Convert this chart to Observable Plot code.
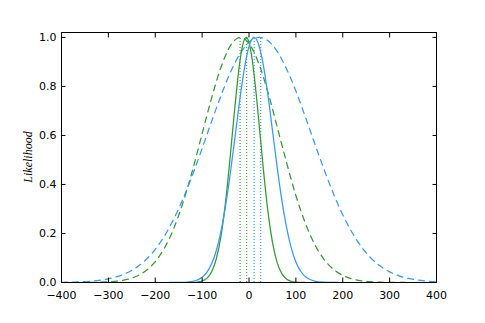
<!DOCTYPE html>
<html>
<head>
<meta charset="utf-8">
<script src="https://cdn.jsdelivr.net/npm/d3@7"></script>
<script src="https://cdn.jsdelivr.net/npm/@observablehq/plot@0.6"></script>
<style>
  html, body { margin: 0; padding: 0; background: #ffffff; }
  #chart svg { display: block; }
</style>
</head>
<body>
<div id="chart"></div>
<script>
// Values
const xTicks = [-400, -300, -200, -100, 0, 100, 200, 300, 400];
const yTicks = [0, 0.2, 0.4, 0.6, 0.8, 1.0];

// green solid (narrow)
const greenSolidX = [-130, -120, -110, -100, -90, -80, -70, -60, -50, -40, -30, -20, -10, -6, 0, 10, 20, 30, 40, 50, 60, 70, 80, 90, 100, 110, 120];
const greenSolidY = [0.0001, 0.0006, 0.002, 0.006, 0.017, 0.043, 0.095, 0.187, 0.329, 0.515, 0.718, 0.894, 0.991, 1.0, 0.980, 0.863, 0.678, 0.475, 0.296, 0.165, 0.082, 0.036, 0.014, 0.005, 0.0016, 0.0004, 0.0001];

// blue solid (narrow)
const blueSolidX = [-170, -150, -130, -120, -110, -100, -90, -80, -70, -60, -50, -40, -30, -20, -10, 0, 11, 20, 30, 40, 50, 60, 70, 80, 90, 100, 110, 120, 130, 140, 150, 170, 190];
const blueSolidY = [0.0001, 0.0003, 0.002, 0.0047, 0.0103, 0.0213, 0.0413, 0.0752, 0.1287, 0.207, 0.3126, 0.4436, 0.591, 0.741, 0.871, 0.963, 1.0, 0.975, 0.893, 0.769, 0.622, 0.472, 0.337, 0.226, 0.142, 0.084, 0.0468, 0.0244, 0.012, 0.0055, 0.0024, 0.0004, 0.0001];

// green dashed (wide)
const greenDashX = [-340, -320, -300, -280, -260, -240, -220, -200, -180, -160, -140, -120, -100, -80, -60, -40, -18, 0, 20, 40, 60, 80, 100, 120, 140, 160, 180, 200, 220, 240, 260, 280, 300, 320, 340];
const greenDashY = [0.0003, 0.0011, 0.0027, 0.0061, 0.0128, 0.0256, 0.0481, 0.0852, 0.142, 0.223, 0.331, 0.461, 0.607, 0.751, 0.877, 0.965, 1.0, 0.976, 0.898, 0.779, 0.636, 0.490, 0.355, 0.243, 0.156, 0.0948, 0.0542, 0.0292, 0.0148, 0.0071, 0.0032, 0.0014, 0.0006, 0.0002, 0.0001];

// blue dashed (wide)
const blueDashX = [-400, -380, -360, -340, -320, -300, -280, -260, -240, -220, -200, -180, -160, -140, -120, -100, -80, -60, -40, -20, 0, 22, 40, 60, 80, 100, 120, 140, 160, 180, 200, 220, 240, 260, 280, 300, 320, 340, 360, 380, 400];
const blueDashY = [0.0007, 0.0014, 0.0027, 0.0049, 0.0087, 0.0149, 0.0247, 0.0397, 0.0617, 0.0929, 0.1353, 0.191, 0.261, 0.345, 0.441, 0.547, 0.656, 0.761, 0.856, 0.931, 0.981, 1.0, 0.987, 0.943, 0.872, 0.781, 0.677, 0.568, 0.462, 0.363, 0.276, 0.204, 0.145, 0.100, 0.0671, 0.0434, 0.0272, 0.0165, 0.0097, 0.0055, 0.0030];

// dotted vertical markers
const greenMarkers = [-19, -5];
const blueMarkers = [11, 25];

const GREEN = "#339933";
const BLUE = "#3399ff";

const toRows = (xs, ys) => xs.map((x, i) => ({x, y: ys[i]}));
const fmtX = d3.format("d");
const fmtY = d3.format(".1f");
const font = "DejaVu Sans, sans-serif";

const tickLen = -4.5;
const axisStyle = {fontSize: 11, fontFamily: font, color: "black"};

const chart = Plot.plot({
  width: 485,
  height: 323,
  marginLeft: 61,
  marginRight: 49,
  marginTop: 32,
  marginBottom: 41,
  style: {background: "white", fontFamily: font, fontSize: "11px", color: "black", overflow: "visible"},
  x: {domain: [-400, 400]},
  y: {domain: [0, 1.02]},
  marks: [
    Plot.ruleX(greenMarkers, {x: d => d, y1: 0, y2: 1, stroke: GREEN, strokeWidth: 1.1, strokeDasharray: "1,2"}),
    Plot.ruleX(blueMarkers, {x: d => d, y1: 0, y2: 1, stroke: BLUE, strokeWidth: 1.1, strokeDasharray: "1,2"}),
    Plot.line(toRows(greenDashX, greenDashY), {x: "x", y: "y", stroke: GREEN, strokeWidth: 1.25, strokeDasharray: "6,5", curve: "monotone-x"}),
    Plot.line(toRows(blueDashX, blueDashY), {x: "x", y: "y", stroke: BLUE, strokeWidth: 1.25, strokeDasharray: "6,5", curve: "monotone-x"}),
    Plot.line(toRows(greenSolidX, greenSolidY), {x: "x", y: "y", stroke: GREEN, strokeWidth: 1.25, curve: "monotone-x"}),
    Plot.line(toRows(blueSolidX, blueSolidY), {x: "x", y: "y", stroke: BLUE, strokeWidth: 1.25, curve: "monotone-x"}),
    // tick labels
    Plot.axisX(xTicks, {anchor: "bottom", tickSize: 0, tickPadding: 9, tickFormat: fmtX, label: null, ...axisStyle}),
    Plot.axisY(yTicks, {anchor: "left", tickSize: 0, tickPadding: 5, tickFormat: fmtY, label: null, ...axisStyle}),
    // inward ticks on all four sides
    Plot.axisX(xTicks, {anchor: "bottom", tickSize: tickLen, tickFormat: () => "", label: null, stroke: "black"}),
    Plot.axisX(xTicks, {anchor: "top", tickSize: tickLen, tickFormat: () => "", label: null, stroke: "black"}),
    Plot.axisY(yTicks, {anchor: "left", tickSize: tickLen, tickFormat: () => "", label: null, stroke: "black"}),
    Plot.axisY(yTicks, {anchor: "right", tickSize: tickLen, tickFormat: () => "", label: null, stroke: "black"}),
    Plot.frame({stroke: "black", strokeWidth: 1})
  ]
});

// y-axis title (italic, rotated), placed beside the plot
const svg = d3.select(chart);
svg.append("text")
  .attr("transform", "translate(32,157) rotate(-90)")
  .attr("text-anchor", "middle")
  .attr("font-family", "Liberation Serif, serif")
  .attr("font-style", "italic")
  .attr("font-size", 12)
  .attr("fill", "black")
  .text("Likelihood");

document.getElementById("chart").appendChild(chart);
</script>
</body>
</html>
